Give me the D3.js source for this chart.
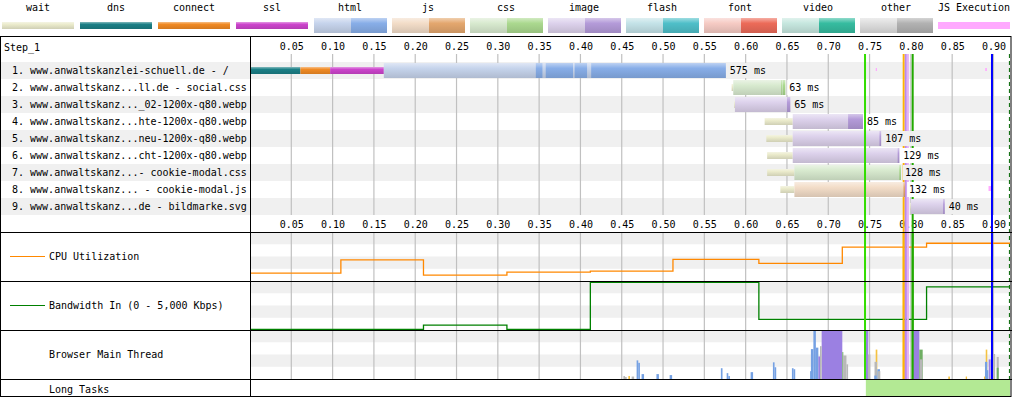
<!DOCTYPE html>
<html>
<head>
<meta charset="utf-8">
<script src="https://cdn.jsdelivr.net/npm/d3@7"></script>
<style>
body { margin: 0; background: #fff; }
text { font-family: 'DejaVu Sans Mono', monospace; font-size: 10px; fill: #000; }
</style>
</head>
<body>
<svg id="chart" width="1012" height="397"></svg>
<script>
// ---- data ----
var legendNames = ['wait', 'dns', 'connect', 'ssl', 'html', 'js', 'css', 'image', 'flash', 'font', 'video', 'other', 'JS Execution'];
var legendLight = ['#ebebcc', '#1b7f86', '#f08a24', '#cc44cc', '#c6d4ec', '#f3ddc8', '#d8eacf', '#ddd2ec', '#c4e3e8', '#f6cbc4', '#c6e7df', '#dedede', '#ffaaff'];
var legendDark  = ['#ebebcc', '#1b7f86', '#f08a24', '#cc44cc', '#88aee8', '#e4a76e', '#abd98f', '#b49bd9', '#4fbfc9', '#ec6b59', '#36bca0', '#b2b2b2', '#ffaaff'];

var reqLabels = [
    '1. www.anwaltskanzlei-schuell.de - /',
    '2. www.anwaltskanz...ll.de - social.css',
    '3. www.anwaltskanz..._02-1200x-q80.webp',
    '4. www.anwaltskanz...hte-1200x-q80.webp',
    '5. www.anwaltskanz...neu-1200x-q80.webp',
    '6. www.anwaltskanz...cht-1200x-q80.webp',
    '7. www.anwaltskanz...- cookie-modal.css',
    '8. www.anwaltskanz... - cookie-modal.js',
    '9. www.anwaltskanz...de - bildmarke.svg'
];
var reqType      = ['html', 'css', 'image', 'image', 'image', 'image', 'css', 'js', 'image'];
var waitStart    = [null, 0.583, 0.586, 0.623, 0.625, 0.626, 0.626, 0.642, 0.799];
var reqStart     = [0.162, 0.585, 0.587, 0.657, 0.657, 0.657, 0.659, 0.659, 0.800];
var reqEnd       = [0.576, 0.648, 0.654, 0.742, 0.764, 0.786, 0.788, 0.793, 0.841];
var reqMs        = [575, 63, 65, 85, 107, 129, 128, 132, 40];
// dark (downloading) chunks: [row, start, end]
var chunks = [
    [0, 0.346, 0.354], [0, 0.358, 0.391], [0, 0.393, 0.408], [0, 0.413, 0.576],
    [1, 0.643, 0.644], [1, 0.645, 0.648],
    [2, 0.650, 0.654],
    [3, 0.724, 0.742],
    [4, 0.762, 0.764],
    [5, 0.784, 0.786],
    [6, 0.786, 0.788],
    [7, 0.791, 0.793],
    [8, 0.839, 0.841]
];
// connection phases of request 1
var connPhases = [['dns', 0, 0.061], ['connect', 0.061, 0.097], ['ssl', 0.097, 0.162]];
// JS execution marks: [row, start, end]
var jsExec = [[0, 0.7575, 0.759], [0, 0.890, 0.892], [7, 0.894, 0.897]];

// page event lines
var eventTimes  = [0.7445, 0.7913, 0.7938, 0.7964, 0.8022, 0.8982];
var eventColors = ['#33dd00', '#ffb400', '#bb88ee', '#e6b2f4', '#22aa00', '#0000ff'];
var eventOnTop  = [true, false, false, false, false, true];
var endTime = 0.9193;

var tickValues = d3.range(1, 19).map(function (d) { return d * 0.05; });

var cpuTimes  = [0, 0.110, 0.210, 0.311, 0.412, 0.512, 0.616, 0.717, 0.819, 0.92];
var cpuValues = [16, 43, 12, 18, 20, 44, 36, 69, 77, 77];
var bwTimes   = [0, 0.210, 0.311, 0.412, 0.616, 0.819, 0.92];
var bwValues  = [60, 500, 60, 4870, 1090, 4400, 4400];

// main thread slices: [start, end, category, share]
var mainThread = [
    [0.452, 0.454, 'other', 0.06], [0.454, 0.456, 'other', 0.04], [0.458, 0.460, 'script', 0.06],
    [0.462, 0.465, 'other', 0.05], [0.468, 0.470, 'parse', 0.38], [0.470, 0.472, 'parse', 0.33],
    [0.474, 0.477, 'parse', 0.10], [0.492, 0.495, 'parse', 0.10], [0.508, 0.511, 'parse', 0.08],
    [0.570, 0.572, 'parse', 0.22], [0.577, 0.579, 'parse', 0.12], [0.579, 0.581, 'parse', 0.06],
    [0.606, 0.609, 'parse', 0.14], [0.633, 0.635, 'parse', 0.34], [0.635, 0.637, 'parse', 0.24],
    [0.656, 0.658, 'parse', 0.22], [0.658, 0.660, 'parse', 0.20],
    [0.678, 0.680, 'parse', 0.16], [0.679, 0.682, 'parse', 0.61], [0.682, 0.685, 'parse', 1.0],
    [0.685, 0.688, 'parse', 0.64], [0.688, 0.690, 'layout', 0.46], [0.690, 0.692, 'other', 0.67],
    [0.692, 0.717, 'layout', 1.0], [0.717, 0.718, 'paint', 0.55], [0.718, 0.722, 'other', 0.48],
    [0.722, 0.724, 'other', 0.30],
    [0.7457, 0.7485, 'layout', 1.0], [0.748, 0.751, 'other', 0.5],
    [0.756, 0.759, 'other', 0.35], [0.7557, 0.7586, 'parse', 0.07], [0.7574, 0.7594, 'script', 0.60],
    [0.7594, 0.7626, 'parse', 0.20], [0.760, 0.763, 'other', 0.16],
    [0.8014, 0.8102, 'layout', 1.0], [0.8102, 0.8143, 'paint', 0.60], [0.811, 0.814, 'other', 0.4],
    [0.8453, 0.8473, 'script', 0.05], [0.8664, 0.868, 'script', 0.05],
    [0.8885, 0.890, 'script', 0.05], [0.8897, 0.8925, 'parse', 0.35], [0.8906, 0.8925, 'script', 0.60],
    [0.8918, 0.8937, 'parse', 0.18], [0.8942, 0.8966, 'layout', 0.40], [0.899, 0.902, 'other', 0.51],
    [0.9039, 0.9064, 'other', 0.45], [0.9039, 0.9063, 'paint', 0.23]
];
var mtColors = { parse: '#75a1e3', layout: '#9b80e2', other: '#b8b8b8', script: '#f4c242', paint: '#6fae63' };

var longTasks = [[0.7455, 0.92]];

// ---- layout ----
var svg = d3.select('#chart');
var W = 1012;
var leftW = 250;
var rowTop = 62, rowH = 17;
var cpuTop = 232, bwTop = 281, mtTop = 330, ltTop = 379, bottom = 396;
var secH = 49;

var x = d3.scaleLinear().domain([0, 0.92]).range([leftW, 1010]);
var y = d3.scaleBand().domain(d3.range(reqLabels.length)).range([rowTop, rowTop + rowH * reqLabels.length]);
var cpuY = d3.scaleLinear().domain([0, 100]).range([cpuTop + secH, cpuTop]);
var bwY = d3.scaleLinear().domain([0, 5000]).range([bwTop + secH, bwTop]);
var mtY = d3.scaleLinear().domain([0, 1]).range([mtTop + secH, mtTop]);

var light = {}, dark = {};
legendNames.forEach(function (n, i) { light[n] = legendLight[i]; dark[n] = legendDark[i]; });

function stripe(i) { return i % 2 == 0 ? '#f0f0f0' : '#fff'; }

// vertical gradients for the bars
var defs = svg.append('defs');
var gradIds = {};
function grad(c) {
    if (gradIds[c]) return 'url(#' + gradIds[c] + ')';
    var id = 'g' + c.slice(1);
    var g = defs.append('linearGradient').attr('id', id)
        .attr('x1', 0).attr('y1', 0).attr('x2', 0).attr('y2', 1);
    g.append('stop').attr('offset', '0%').attr('stop-color', d3.interpolateRgb(c, '#fff')(0.45));
    g.append('stop').attr('offset', '35%').attr('stop-color', c);
    g.append('stop').attr('offset', '100%').attr('stop-color', d3.color(c).darker(0.35));
    gradIds[c] = id;
    return 'url(#' + id + ')';
}

function eventLines(top, y1) {
    eventTimes.forEach(function (t, i) {
        if (eventOnTop[i] != top) return;
        svg.append('line')
            .attr('x1', x(t)).attr('x2', x(t)).attr('y1', y1).attr('y2', ltTop)
            .style('stroke', eventColors[i]).style('stroke-width', 2);
    });
}

// ---- legend ----
legendNames.forEach(function (n, i) {
    var lx = 2 + i * 78;
    svg.append('text')
        .attr('x', lx + 36).attr('y', 11)
        .attr('text-anchor', 'middle')
        .text(n);
    if (i < 4 || i == 12) {
        svg.append('rect')
            .attr('x', lx).attr('y', 22).attr('width', 72).attr('height', 7)
            .style('fill', i == 12 ? light[n] : grad(light[n]));
    } else {
        svg.append('rect')
            .attr('x', lx).attr('y', 18).attr('width', 37).attr('height', 15)
            .style('fill', grad(light[n]));
        svg.append('rect')
            .attr('x', lx + 37).attr('y', 18).attr('width', 36).attr('height', 15)
            .style('fill', grad(dark[n]));
    }
});

// ---- row stripes ----
reqLabels.forEach(function (d, i) {
    if (i % 2 == 0) {
        svg.append('rect')
            .attr('x', 1).attr('y', y(i)).attr('width', W - 3).attr('height', rowH)
            .style('fill', stripe(i));
    }
    svg.append('text')
        .attr('x', 12).attr('y', y(i) + 12)
        .text(d);
});
svg.append('text').attr('x', 4).attr('y', 51).text('Step_1');

// section stripes
[cpuTop, bwTop, mtTop].forEach(function (t) {
    [0, 2].forEach(function (k) {
        svg.append('rect')
            .attr('x', leftW).attr('y', t + k * secH / 4)
            .attr('width', W - leftW - 1).attr('height', secH / 4)
            .style('fill', '#f0f0f0');
    });
});

// ---- grid & axes ----
var grid = svg.append('g').attr('class', 'grid');
tickValues.forEach(function (t) {
    grid.append('line')
        .attr('x1', x(t)).attr('x2', x(t)).attr('y1', 54).attr('y2', y(8) + rowH)
        .style('stroke', '#c0c0c0').style('stroke-width', 1.2);
    grid.append('line')
        .attr('x1', x(t)).attr('x2', x(t)).attr('y1', cpuTop).attr('y2', ltTop)
        .style('stroke', '#c0c0c0').style('stroke-width', 1.2);
});

var axis = d3.axisTop(x).tickValues(tickValues).tickFormat(d3.format('.2f')).tickSize(0);
[53, 231].forEach(function (ay) {
    var g = svg.append('g').attr('transform', 'translate(0,' + ay + ')').call(axis);
    g.select('.domain').remove();
    g.selectAll('text').attr('font-family', null).attr('font-size', null).style('fill', '#000');
});

// ---- event lines under the bars ----
eventLines(false, 54);
svg.append('line')
    .attr('x1', x(endTime)).attr('x2', x(endTime)).attr('y1', 54).attr('y2', ltTop)
    .style('stroke', '#006600').style('stroke-width', 1).style('stroke-dasharray', '4,3');

// ---- request bars ----
connPhases.forEach(function (p) {
    svg.append('rect')
        .attr('x', x(p[1])).attr('y', y(0) + 5)
        .attr('width', x(p[2]) - x(p[1])).attr('height', 7)
        .style('fill', grad(light[p[0]]));
});

reqLabels.forEach(function (d, i) {
    if (waitStart[i] != null) {
        svg.append('rect')
            .attr('x', x(waitStart[i])).attr('y', y(i) + 5)
            .attr('width', x(reqStart[i]) - x(waitStart[i])).attr('height', 7)
            .style('fill', grad(light['wait']));
    }
    svg.append('rect')
        .attr('x', x(reqStart[i])).attr('y', y(i) + 1)
        .attr('width', x(reqEnd[i]) - x(reqStart[i])).attr('height', 15)
        .style('fill', grad(light[reqType[i]]));
});

chunks.forEach(function (c) {
    svg.append('rect')
        .attr('x', x(c[1])).attr('y', y(c[0]) + 1)
        .attr('width', Math.max(1, x(c[2]) - x(c[1]))).attr('height', 15)
        .style('fill', grad(dark[reqType[c[0]]]));
});

reqLabels.forEach(function (d, i) {
    var lbl = reqMs[i] + ' ms';
    svg.append('rect')
        .attr('x', x(reqEnd[i]) + 2).attr('y', y(i) + 1)
        .attr('width', lbl.length * 6 + 4).attr('height', rowH - 2)
        .style('fill', stripe(i));
    svg.append('text')
        .attr('x', x(reqEnd[i]) + 4).attr('y', y(i) + 12)
        .text(lbl);
});

jsExec.forEach(function (j) {
    svg.append('rect')
        .attr('x', x(j[1])).attr('y', y(j[0]) + (j[0] == 7 ? 5 : 6))
        .attr('width', Math.max(1, x(j[2]) - x(j[1]))).attr('height', j[0] == 7 ? 5 : 3)
        .style('fill', light['JS Execution']);
});

// ---- CPU & bandwidth ----
var cpuLine = d3.line().curve(d3.curveStepAfter)
    .x(function (d, i) { return x(cpuTimes[i]); })
    .y(function (d) { return cpuY(d); });
svg.append('path').attr('d', cpuLine(cpuValues))
    .style('fill', 'none').style('stroke', '#ff8800').style('stroke-width', 1.3);

var bwLine = d3.line().curve(d3.curveStepAfter)
    .x(function (d, i) { return x(bwTimes[i]); })
    .y(function (d) { return bwY(d); });
svg.append('path').attr('d', bwLine(bwValues))
    .style('fill', 'none').style('stroke', '#008000').style('stroke-width', 1.3);

// ---- main thread ----
mainThread.slice().sort(function (a, b) { return b[3] - a[3]; }).forEach(function (m) {
    svg.append('rect')
        .attr('x', x(m[0])).attr('y', mtY(m[3]))
        .attr('width', Math.max(1, x(m[1]) - x(m[0]))).attr('height', mtY(0) - mtY(m[3]))
        .style('fill', mtColors[m[2]]);
});

// lines kept on top of everything, and all lines over the lower graphs
eventLines(true, 54);
eventLines(false, cpuTop);

// ---- long tasks ----
longTasks.forEach(function (l) {
    svg.append('rect')
        .attr('x', x(l[0])).attr('y', ltTop)
        .attr('width', x(l[1]) - x(l[0])).attr('height', bottom - ltTop)
        .style('fill', '#b3e994');
});

// ---- left labels of graphs ----
svg.append('line').attr('x1', 10).attr('x2', 45).attr('y1', 256.5).attr('y2', 256.5)
    .style('stroke', '#ff8800').style('stroke-width', 1);
svg.append('text').attr('x', 49).attr('y', 260).text('CPU Utilization');
svg.append('line').attr('x1', 10).attr('x2', 45).attr('y1', 305.5).attr('y2', 305.5)
    .style('stroke', '#008000').style('stroke-width', 1);
svg.append('text').attr('x', 49).attr('y', 309).text('Bandwidth In (0 - 5,000 Kbps)');
svg.append('text').attr('x', 49).attr('y', 358).text('Browser Main Thread');
svg.append('text').attr('x', 49).attr('y', 393).text('Long Tasks');

// ---- frame ----
var frame = svg.append('g').style('stroke', '#000').style('stroke-width', 1).style('fill', 'none');
frame.append('rect').attr('x', 0.5).attr('y', 36.5).attr('width', W - 1.5).attr('height', bottom - 36);
frame.append('line').attr('x1', leftW + 0.5).attr('x2', leftW + 0.5).attr('y1', 36).attr('y2', bottom);
[cpuTop, bwTop, mtTop, ltTop].forEach(function (t) {
    frame.append('line').attr('x1', 0).attr('x2', W).attr('y1', t + 0.5).attr('y2', t + 0.5);
});
</script>
</body>
</html>
